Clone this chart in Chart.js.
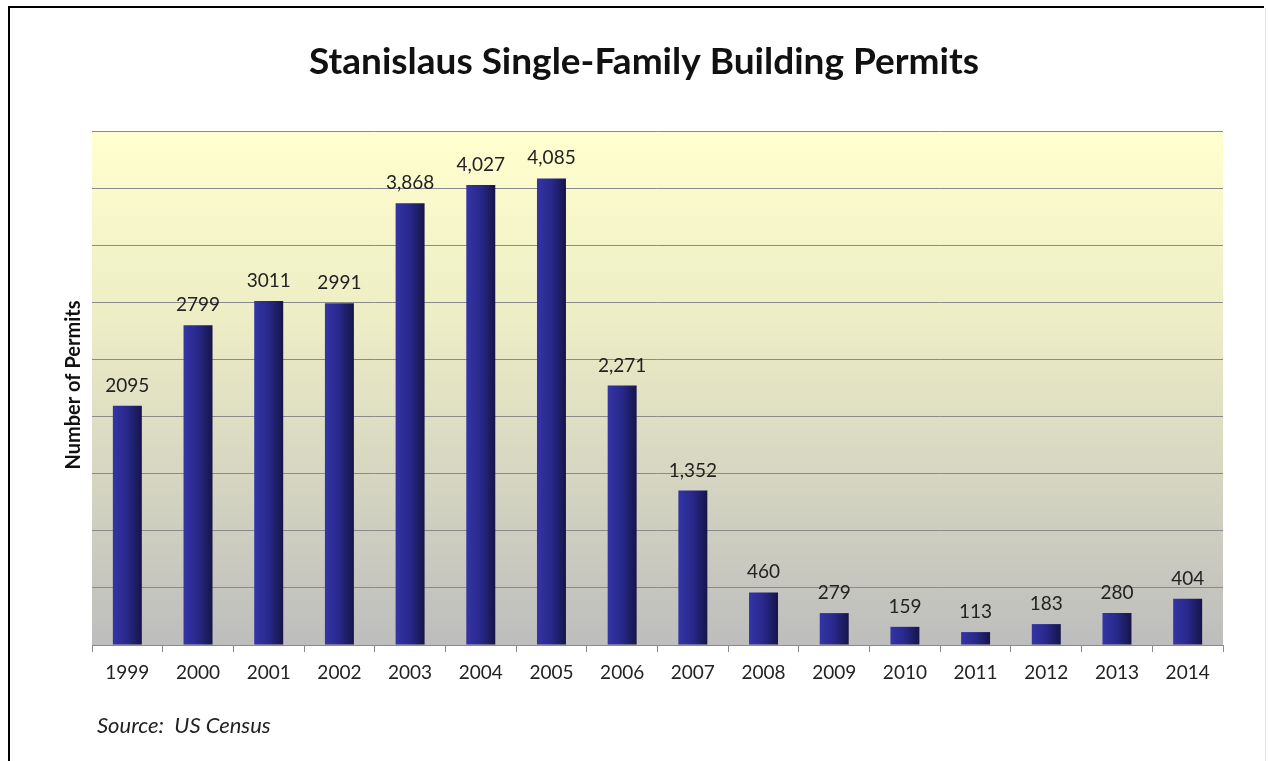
<!DOCTYPE html>
<html>
<head>
<meta charset="utf-8">
<script src="https://cdn.jsdelivr.net/npm/chart.js@4"></script>
<style>
  html, body { margin: 0; padding: 0; background: #fff; }
  #wrap { width: 1268px; height: 761px; position: relative; }
</style>
</head>
<body>
<div id="wrap"><canvas id="permitChart" width="1268" height="761"></canvas></div>
<script>
// Stanislaus single-family building permits (US Census)
const years = ['1999', '2000', '2001', '2002', '2003', '2004', '2005', '2006',
               '2007', '2008', '2009', '2010', '2011', '2012', '2013', '2014'];
const permits = [2095, 2799, 3011, 2991, 3868, 4027, 4085, 2271,
                 1352, 460, 279, 159, 113, 183, 280, 404];
const valueLabels = ['2095', '2799', '3011', '2991', '3,868', '4,027', '4,085', '2,271',
                     '1,352', '460', '279', '159', '113', '183', '280', '404'];
const yMax = 4500;
const yStep = 500;

const FONT = 'Lato, "Open Sans", sans-serif';

// frame, titles and plot background
const decor = {
    id: 'decor',
    beforeDraw(chart) {
        const { ctx, chartArea: a } = chart;
        ctx.save();
        ctx.fillStyle = '#fff';
        ctx.fillRect(0, 0, chart.width, chart.height);

        const g = ctx.createLinearGradient(0, a.top, 0, a.bottom);
        g.addColorStop(0, '#ffffcf');
        g.addColorStop(0.35, '#eeeec6');
        g.addColorStop(1, '#bdbdbd');
        ctx.fillStyle = g;
        ctx.fillRect(a.left, a.top, a.right - a.left, a.bottom - a.top);

        // outer frame
        ctx.strokeStyle = '#000';
        ctx.lineWidth = 2;
        ctx.beginPath();
        ctx.moveTo(9, 800);
        ctx.lineTo(9, 7);
        ctx.lineTo(1264, 7);
        ctx.stroke();
        ctx.strokeStyle = '#e4e4e4';
        ctx.lineWidth = 1;
        ctx.beginPath();
        ctx.moveTo(1265.5, 8);
        ctx.lineTo(1265.5, 800);
        ctx.stroke();

        ctx.fillStyle = '#111';
        ctx.textAlign = 'center';
        ctx.textBaseline = 'middle';
        ctx.font = 'bold 37px ' + FONT;
        ctx.fillText('Stanislaus Single-Family Building Permits', 644, 62);

        ctx.save();
        ctx.translate(74, 385);
        ctx.rotate(-Math.PI / 2);
        ctx.font = 'bold 20px ' + FONT;
        ctx.fillText('Number of Permits', 0, 0);
        ctx.restore();

        ctx.textAlign = 'left';
        ctx.font = 'italic 22px ' + FONT;
        ctx.fillStyle = '#222';
        ctx.fillText('Source:  US Census', 97, 726);
        ctx.restore();
    },
    beforeDatasetsDraw(chart) {
        const { ctx } = chart;
        chart.getDatasetMeta(0).data.forEach(bar => {
            const half = bar.width / 2;
            const g = ctx.createLinearGradient(bar.x - half, 0, bar.x + half, 0);
            g.addColorStop(0, '#3434a6');
            g.addColorStop(0.5, '#28288a');
            g.addColorStop(1, '#151548');
            bar.options.backgroundColor = g;
        });
    },
    afterDatasetsDraw(chart) {
        const { ctx } = chart;
        ctx.save();
        ctx.fillStyle = '#222';
        ctx.font = '19px ' + FONT;
        ctx.textAlign = 'center';
        ctx.textBaseline = 'alphabetic';
        chart.getDatasetMeta(0).data.forEach((bar, i) => {
            ctx.fillText(valueLabels[i], bar.x, bar.y - 14);
        });
        ctx.restore();
    }
};

new Chart(document.getElementById('permitChart'), {
    type: 'bar',
    data: {
        labels: years,
        datasets: [{
            data: permits,
            // scriptable so every bar keeps its own options object
            backgroundColor: c => '#26267f',
            barPercentage: 0.41,
            categoryPercentage: 1,
        }]
    },
    options: {
        responsive: false,
        animation: false,
        layout: { padding: { top: 131, right: 45, left: 0, bottom: 0 } },
        plugins: { legend: { display: false }, tooltip: { enabled: false } },
        scales: {
            x: {
                afterFit: s => { s.height = 116; },
                border: { display: true, color: '#8a8a8a' },
                grid: { offset: true, drawOnChartArea: false, drawTicks: true, tickLength: 7, color: '#8a8a8a' },
                ticks: { color: '#222', font: { family: FONT, size: 19 }, padding: 9, maxRotation: 0 }
            },
            y: {
                min: 0,
                max: yMax,
                afterFit: s => { s.width = 92; },
                border: { display: false },
                grid: { color: '#8a8a8a', drawTicks: false },
                ticks: { stepSize: yStep, display: false }
            }
        }
    },
    plugins: [decor]
});
</script>
</body>
</html>
